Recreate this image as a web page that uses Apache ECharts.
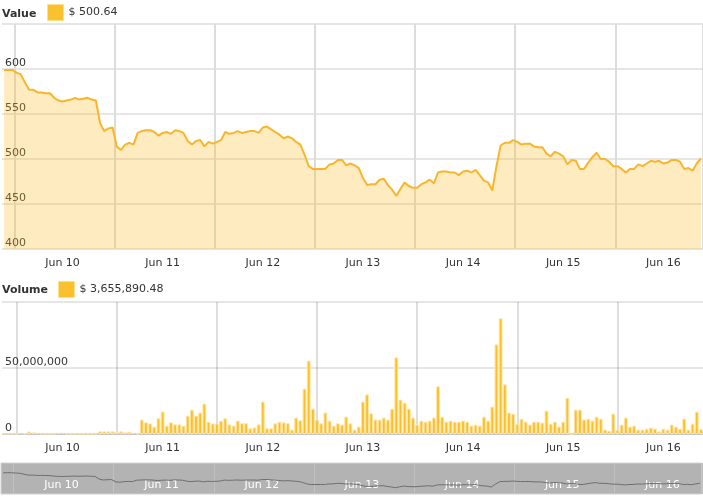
<!DOCTYPE html>
<html><head><meta charset="utf-8">
<script src="https://cdn.jsdelivr.net/npm/echarts@6/dist/echarts.min.js"></script>
<style>html,body{margin:0;padding:0;background:#fff}#c{width:703px;height:500px}</style>
</head><body><div id="c"></div>
<script>
// Day names and hour of the first hourly sample (Jun 9, 21:00)
const days = ['Jun 9','Jun 10','Jun 11','Jun 12','Jun 13','Jun 14','Jun 15','Jun 16'];
const firstHour = 21;

// Hourly price (USD)
const priceValues = [
599,599,599,596,594,585,577,577,574,574,
573,573,568,565,564,565,566,568,566,567,
568,566,565,540,531,534,535,514,510,516,
518,516,529,531,532,532,530,526,529,530,
528,532,531,529,520,516,520,521,514,519,
517,519,521,530,528,529,531,529,530,531,
531,529,535,536,533,530,527,523,525,523,
519,516,505,492,489,489,489,489,494,495,
499,499,493,495,493,490,479,471,472,472,
477,478,471,466,459,467,474,470,468,468,
472,474,477,473,485,486,486,485,485,482,
486,487,485,488,482,476,474,465,492,515,
518,518,521,519,516,517,517,514,513,513,
506,503,508,506,503,494,499,498,489,489,
496,502,507,500,500,497,492,492,489,485,
489,489,494,492,495,498,497,498,495,496,
499,499,497,489,490,487,495,500.64];

// Hourly volume (millions USD)
const volumeMillions = [
0.2,0.2,0.2,0.2,1.0,0.3,1.8,1.2,1.0,0.2,
0.2,0.2,0.2,1.0,1.0,0.2,0.2,0.2,0.2,0.2,
0.2,0.2,0.2,2.0,2.0,2.0,2.0,1.5,2.0,1.3,
1.8,1.0,0.3,
10.9,8.8,8,5.5,11.9,17,6.3,8.8,7.3,7.3,6.3,13.9,18.4,13.9,16.2,23,9.3,8,8,10,11.9,7.3,
6.3,10.1,8.1,8.1,4.3,5,7.3,24.5,4.3,4.3,8.1,9.3,8.8,8.1,3.3,12.4,10.4,34.3,55.6,19.2,
10.9,8.1,16.2,10.1,6.3,8.1,7.1,13.1,8.1,3.3,5.6,24.5,30,15.7,10.9,10.9,12.4,10.9,19.2,58,
26,23.7,19.2,12.4,7.1,10.1,9.3,10.1,12.4,36.1,13.1,9.3,10.1,9.3,9.3,10.1,9.3,
6.3,7.1,6.3,13.1,10.1,20.7,67.9,87.6,37.6,16.2,15.4,7.8,11.6,9.3,7.1,9.3,9.3,8.6,17.7,7.8,
9.3,5.6,9.3,27.5,0,18.4,18.4,10.9,11.6,10.1,13.1,11.6,3.3,2.5,15.4,3.3,7.1,12.4,5.6,6.3,
3.3,3.3,4,4.8,4,2,4,3.3,7.1,5.6,4,11.6,3.3,7.8,16.9,3.65589048];

const priceAxis = {min: 400, max: 650, step: 50};
const volumeAxis = {min: 0, max: 100000000, step: 50000000};
const navAxis = {min: 400, max: 690};

const categories = [];
for (let i = 0; i < priceValues.length; i++) {
  const h = firstHour + i;
  categories.push(days[Math.floor(h / 24)] + ' ' + String(h % 24).padStart(2, '0') + ':00');
}
const volumeValues = volumeMillions.map(v => +(v * 1e6).toFixed(2));

const FONT = 'DejaVu Sans';
const TXT = '#333';
const labelAt = (i, v) => v.endsWith(' 11:00');
const dayLine = (i, v) => v.endsWith(' 00:00');
const dayName = v => v.split(' ').slice(0, 2).join(' ');
const midnights = categories.filter(c => c.endsWith(' 00:00'));

function xAxisFor(gridIndex, opts) {
  return Object.assign({
    type: 'category', gridIndex, data: categories, boundaryGap: true,
    axisTick: {show: false},
    axisLine: {show: false},
    axisLabel: {interval: labelAt, formatter: dayName, color: TXT, fontSize: 11, fontFamily: FONT, margin: 9},
    splitLine: {show: true, interval: dayLine, lineStyle: {color: '#dcdcdc', width: 2}}
  }, opts || {});
}

const chart = echarts.init(document.getElementById('c'), null, {renderer: 'canvas'});
const lastPrice = priceValues[priceValues.length - 1];
const lastVol = volumeValues[volumeValues.length - 1];

chart.setOption({
  animation: false,
  textStyle: {fontFamily: FONT},
  title: [
    {text: 'Value', left: 2, top: 9, padding: 0, textStyle: {fontSize: 11, fontWeight: 'bold', color: TXT, fontFamily: FONT}},
    {text: 'Volume', left: 2, top: 285, padding: 0, textStyle: {fontSize: 11, fontWeight: 'bold', color: TXT, fontFamily: FONT}}
  ],
  legend: [
    {data: ['Value'], left: 47, top: 4, padding: 0, icon: 'rect', itemWidth: 16, itemHeight: 16,
     formatter: () => '$ ' + lastPrice.toFixed(2),
     textStyle: {fontSize: 11, color: TXT, fontFamily: FONT},
     itemStyle: {color: '#fbc02d', borderColor: '#fde08a', borderWidth: 1}},
    {data: ['Volume'], left: 58, top: 281, padding: 0, icon: 'rect', itemWidth: 16, itemHeight: 16,
     formatter: () => '$ ' + lastVol.toLocaleString('en-US', {minimumFractionDigits: 2, maximumFractionDigits: 2}),
     textStyle: {fontSize: 11, color: TXT, fontFamily: FONT},
     itemStyle: {color: '#fbc02d', borderColor: '#fde08a', borderWidth: 1}}
  ],
  grid: [
    {left: 2, right: -1, top: 24, height: 225},
    {left: 2, right: -1, top: 302, height: 132},
    {left: 1, right: 1, top: 463, height: 31, show: true, backgroundColor: '#b3b3b3', borderColor: '#d2d2d2', borderWidth: 1}
  ],
  xAxis: [
    xAxisFor(0),
    xAxisFor(1, {splitLine: {show: false}}),
    xAxisFor(2, {
      axisLabel: {interval: labelAt, formatter: dayName, color: '#fff', fontSize: 11, fontFamily: FONT, inside: true, margin: 3},
      splitLine: {show: true, interval: dayLine, lineStyle: {color: '#c0c0c0', width: 1}}
    })
  ],
  yAxis: [
    {type: 'value', gridIndex: 0, min: priceAxis.min, max: priceAxis.max, interval: priceAxis.step,
     axisLine: {show: false}, axisTick: {show: false},
     axisLabel: {inside: true, showMaxLabel: false, verticalAlign: 'bottom', margin: 3, color: TXT, fontSize: 11, fontFamily: FONT},
     splitLine: {lineStyle: {color: '#e6e6e6', width: 2}}},
    {type: 'value', gridIndex: 1, min: volumeAxis.min, max: volumeAxis.max, interval: volumeAxis.step,
     axisLine: {show: false}, axisTick: {show: false},
     axisLabel: {inside: true, showMaxLabel: false, verticalAlign: 'bottom', margin: 3, color: TXT, fontSize: 11, fontFamily: FONT,
       formatter: v => v.toLocaleString('en-US')},
     splitLine: {lineStyle: {color: '#e6e6e6', width: 2}}},
    {type: 'value', gridIndex: 2, min: navAxis.min, max: navAxis.max, show: false, splitLine: {show: false}}
  ],
  series: [
    {name: 'Value', type: 'line', xAxisIndex: 0, yAxisIndex: 0, data: priceValues,
     showSymbol: false, symbol: 'none', lineStyle: {color: '#f8b62d', width: 2},
     itemStyle: {color: '#fbc02d'},
     areaStyle: {color: 'rgba(250,188,40,0.42)'}},
    {name: 'Volume', type: 'bar', xAxisIndex: 1, yAxisIndex: 1, data: volumeValues,
     barCategoryGap: '8%',
     itemStyle: {color: '#fbbf2c', borderColor: '#fde5a4', borderWidth: 1},
     markLine: {silent: true, symbol: 'none', label: {show: false}, z: 1,
       lineStyle: {color: 'rgba(0,0,0,0.13)', width: 2, type: 'solid'},
       data: midnights.map(c => ({xAxis: c})).concat([{yAxis: 0, lineStyle: {color: '#c6c6c6', width: 2, type: 'solid'}}])}},
    {name: 'nav', type: 'line', xAxisIndex: 2, yAxisIndex: 2, data: priceValues,
     showSymbol: false, symbol: 'none', silent: true,
     lineStyle: {color: '#6f6f6f', width: 1}}
  ]
});
</script>
</body></html>
